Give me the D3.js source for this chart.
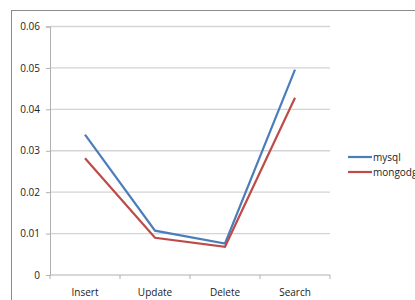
<!DOCTYPE html>
<html>
<head>
<meta charset="utf-8">
<script src="https://cdn.jsdelivr.net/npm/d3@7"></script>
<style>
  body { margin: 0; background: #fff; }
  svg { display: block; }
  text { font-family: "Open Sans", "DejaVu Sans", sans-serif; font-size: 10px; fill: #222; }
</style>
</head>
<body>
<div id="chart"></div>
<script>
'use strict';

var categories = ["Insert", "Update", "Delete", "Search"];
var mysqlValues = [0.0339, 0.0107, 0.0076, 0.0496];
var mongoValues = [0.0282, 0.0090, 0.0068, 0.0428];
var yTicks = [0, 0.01, 0.02, 0.03, 0.04, 0.05, 0.06];
var seriesNames = ["mysql", "mongodg"];

var width = 415, height = 300;

var svg = d3.select("#chart").append("svg")
    .attr("width", width)
    .attr("height", height);

// outer chart border (runs off the right and bottom edges)
svg.append("rect")
    .attr("x", 11.5).attr("y", 10.5)
    .attr("width", 420).attr("height", 300)
    .attr("fill", "none")
    .attr("stroke", "#8c8c8c");

var x = d3.scaleBand().domain(categories).range([50, 330]);
var y = d3.scaleLinear().domain([0, 0.06]).range([275, 26.5]);

// gridlines
svg.selectAll("line.grid")
    .data(yTicks.filter(function (d) { return d > 0; }))
    .enter().append("line")
    .attr("class", "grid")
    .attr("x1", 50).attr("x2", 330)
    .attr("y1", function (d) { return y(d); })
    .attr("y2", function (d) { return y(d); })
    .attr("stroke", "#d4d4d4")
    .attr("stroke-width", 1.3);

// y axis
var yAxis = svg.append("g")
    .attr("transform", "translate(50,0)")
    .call(d3.axisLeft(y).tickValues(yTicks).tickSize(4).tickPadding(6)
        .tickFormat(function (d) { return d === 0 ? "0" : d3.format(".2f")(d); }));
yAxis.select(".domain").attr("stroke", "#b0b0b0");
yAxis.selectAll(".tick line").attr("stroke", "#b0b0b0");
yAxis.selectAll("text").attr("font-family", null).attr("font-size", null).attr("fill", "#222");

// x axis with ticks at band edges
var xAxisG = svg.append("g");
xAxisG.append("line")
    .attr("x1", 50).attr("x2", 330)
    .attr("y1", 275).attr("y2", 275)
    .attr("stroke", "#b0b0b0");
var edges = categories.map(function (c) { return x(c); }).concat([x.range()[1]]);
xAxisG.selectAll("line.xt")
    .data(edges)
    .enter().append("line")
    .attr("class", "xt")
    .attr("x1", function (d) { return d; }).attr("x2", function (d) { return d; })
    .attr("y1", 275).attr("y2", 279)
    .attr("stroke", "#b0b0b0");
xAxisG.selectAll("text")
    .data(categories)
    .enter().append("text")
    .attr("x", function (d) { return x(d) + x.bandwidth() / 2; })
    .attr("y", 296)
    .attr("text-anchor", "middle")
    .text(function (d) { return d; });

var line = d3.line()
    .x(function (d, i) { return x(categories[i]) + x.bandwidth() / 2; })
    .y(function (d) { return y(d); });

var series = [
    { name: seriesNames[0], values: mysqlValues, color: "#4a7ebb" },
    { name: seriesNames[1], values: mongoValues, color: "#be4b48" }
];

series.forEach(function (s) {
    svg.append("path")
        .datum(s.values)
        .attr("d", line)
        .attr("fill", "none")
        .attr("stroke", s.color)
        .attr("stroke-width", 2.2);
});

// legend
var legend = svg.selectAll("g.legend")
    .data(series)
    .enter().append("g")
    .attr("class", "legend")
    .attr("transform", function (d, i) { return "translate(348," + (157 + i * 15) + ")"; });
legend.append("line")
    .attr("x1", 0).attr("x2", 24)
    .attr("stroke", function (d) { return d.color; })
    .attr("stroke-width", 2.2);
legend.append("text")
    .attr("x", 25).attr("y", 3.5)
    .text(function (d) { return d.name; });
</script>
</body>
</html>
